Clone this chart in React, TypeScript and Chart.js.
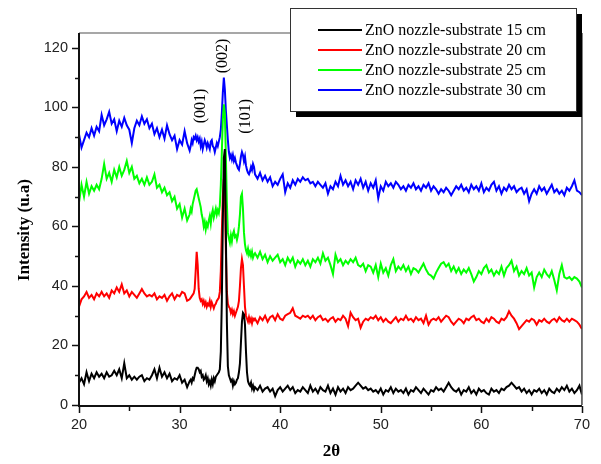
import React, { useEffect, useRef } from "react";
import { Chart, registerables } from "chart.js";

Chart.register(...registerables);

// 2θ sampling grid: [start, end, step] — finer around the ZnO peaks
const TWO_THETA_SEGMENTS: [number, number, number][] = [
  [20, 30.75, 0.25],
  [31, 37.4, 0.1],
  [37.5, 70, 0.25],
];

function buildTwoTheta(): number[] {
  const out: number[] = [];
  for (const [a, b, s] of TWO_THETA_SEGMENTS) {
    const n = Math.round((b - a) / s);
    for (let i = 0; i <= n; i++) out.push(Math.round((a + i * s) * 100) / 100);
  }
  return out;
}
const twoTheta = buildTwoTheta();

const seriesLabels = [
  "ZnO nozzle-substrate 15 cm",
  "ZnO nozzle-substrate 20 cm",
  "ZnO nozzle-substrate 25 cm",
  "ZnO nozzle-substrate 30 cm",
];
const seriesColors = ["#000000", "#ff0000", "#00ff00", "#0000ff"];

const intensity15 = [
  // 20 – 30.75
  7.5, 9, 7, 11, 8, 10.5, 9, 11, 9.5, 10.5, 9, 11, 9.5, 10, 11.5, 10, 12, 9, 14, 9,
  10, 8.5, 9.5, 8.5, 9.5, 10, 8, 9, 8.5, 10, 12, 9, 12.5, 9.5, 11, 9, 10.5, 8, 9, 8.5,
  10, 7.5, 8.5, 6,
  // 31 – 37.4
  8, 8.5, 7.5, 9, 8.5, 10, 11.5, 12.5, 12.5, 12,
  11, 11.5, 9.5, 10, 8.5, 9, 10, 8, 9, 7,
  8, 6.5, 8.5, 7, 9, 8, 9.5, 10, 10.5, 11,
  12, 18, 35, 62, 83, 86, 58, 28, 13, 10,
  9, 8, 8.5, 6.5, 8, 7, 7.5, 8.5, 9, 11,
  14, 21, 28, 31, 30.5, 27, 18, 11, 8, 7,
  6.5, 7.5, 5.5, 6.5, 5,
  // 37.5 – 70
  6, 5, 6.5, 4.5, 5.5, 6, 4.5, 5.5, 3, 5,
  6, 4.5, 5.5, 6.5, 5, 6, 4, 5, 4.5, 6, 5, 4, 6.5, 4.5, 5.5, 4, 6, 5, 4.5, 6.5,
  4, 5.5, 3.5, 6, 4.5, 5.5, 4, 6, 5, 5.5, 6.5, 7.5, 6.5, 5.5, 6, 5, 5.5, 4.5, 5, 4,
  5.5, 3.5, 5, 4.5, 6, 4, 5.5, 4.5, 5, 4, 5.5, 3.5, 5, 4.5, 6, 5, 4, 5.5, 4.5, 3.5,
  5, 4.5, 6, 5, 5.5, 4.5, 6, 7.5, 6, 5, 4.5, 5.5, 3.5, 5, 4.5, 6, 4, 5, 3.5, 5.5,
  4.5, 5, 4, 3.5, 5.5, 4.5, 5, 4, 5.5, 5, 6, 6.5, 7.5, 6.5, 5.5, 6, 4.5, 5.5, 4, 5,
  3.5, 5, 4.5, 5.5, 4, 5, 3.5, 5.5, 4.5, 4, 5.5, 4.5, 6, 5, 6.5, 4.5, 5.5, 4, 5, 6.5,
  3.5,
];

const intensity20 = [
  // 20 – 30.75
  33, 35.5, 36.5, 38, 36, 37, 35.5, 37.5, 36.5, 38, 36.5, 37.5, 36, 38.5, 37.5, 39.5, 38, 40.5, 37.5, 38.5,
  36.5, 38, 37, 36, 37.5, 39, 37.5, 36.5, 37, 36.5, 37.5, 35.5, 36.5, 36, 37, 35, 36.5, 37.5, 35.5, 37,
  36.5, 38, 37.5, 35,
  // 31 – 37.4
  35.5, 36, 36.5, 37, 37.5, 39, 45, 51.5, 47, 39,
  36, 35, 35.5, 34, 35, 33.5, 34.5, 33, 34, 33.5,
  35, 33, 34.5, 33.5, 32.5, 33.5, 34, 35, 35.5, 36,
  38, 45, 58, 70, 76, 72, 52, 38, 34, 33,
  32.5, 31, 32, 30.5, 31.5, 30, 31, 32, 33, 35,
  40, 46, 49, 47, 40, 33, 30, 29, 28, 29.5,
  28, 29, 27.5, 29, 28.5,
  // 37.5 – 70
  29, 27.5, 29.5, 28.5, 30, 28, 29.5, 30, 28.5, 30.5,
  29, 28.5, 30, 30.5, 31, 32.5, 30, 29.5, 29, 30, 29.5, 30, 29, 30, 28.5, 29.5, 30, 28.5, 29, 28,
  29, 29.5, 28, 29, 28.5, 30, 29, 26.5, 31, 29.5, 28.5, 29, 26, 28, 29, 28.5, 29.5, 29, 30, 28.5,
  29.5, 28, 29, 28, 27.5, 28.5, 29.5, 28, 29, 28.5, 30, 28.5, 29, 28, 29.5, 28.5, 29, 27.5, 30, 27,
  28.5, 29, 28.5, 29.5, 28, 29, 30, 29.5, 28, 27, 28, 29, 28.5, 27.5, 29, 28.5, 29.5, 30, 28.5, 29,
  28, 27.5, 29, 28, 29.5, 29, 28, 27.5, 29, 28.5, 29.5, 31.5, 30, 29, 27.5, 25.5, 26.5, 27.5, 28.5, 28,
  29, 28.5, 27, 28.5, 28, 29, 28, 27.5, 28.5, 29, 28, 29.5, 28.5, 28, 29, 28, 29, 28.5, 28, 27,
  25.5,
];

const intensity25 = [
  // 20 – 30.75
  68, 74, 70, 75, 71, 73.5, 72, 74, 72.5, 76, 81, 76, 78, 75, 79, 76.5, 80, 77, 79, 82,
  78, 80, 76, 77, 74.5, 76, 74, 76.5, 74, 75, 77.5, 73, 74, 71.5, 73, 70.5, 71.5, 68.5, 70, 66,
  67.5, 63, 66, 62,
  // 31 – 37.4
  64, 66, 65, 67.5, 69, 70.5, 72, 72.5, 71, 69.5,
  68, 66.5, 64, 62.5, 60, 61.5, 59, 61, 60, 62,
  63.5, 61, 64, 65.5, 63, 64.5, 66, 64, 65.5, 64.5,
  67, 74, 85, 96, 101, 98, 84, 68, 58, 56,
  54.5, 57, 55, 57.5, 58.5, 56.5, 57, 55.5, 57, 60,
  64, 70, 71, 66, 58, 54, 52, 51, 52.5, 50.5,
  51.5, 50, 51.5, 49.5, 50.5,
  // 37.5 – 70
  51, 49.5, 51.5, 49, 50.5, 48, 50, 48.5, 49.5, 50.5,
  48, 49, 47, 49.5, 48, 49.5, 46.5, 48.5, 47.5, 49, 47, 48.5, 46.5, 49, 48, 49.5, 47.5, 51, 48.5, 49.5,
  47, 44, 50.5, 48, 49, 47, 48.5, 47.5, 49, 48, 49.5, 47, 46.5, 47.5, 45, 47, 46.5, 44.5, 47, 43,
  47.5, 44.5, 46, 43.5, 47, 49, 45, 46.5, 45.5, 47, 45, 46.5, 44, 46, 45.5, 44.5, 46, 47.5, 45.5, 44,
  43.5, 42.5, 44.5, 46, 47.5, 48, 46.5, 47.5, 45, 46.5, 44.5, 46, 44, 45.5, 44.5, 46, 44, 41.5, 43, 45,
  44, 46, 47, 44.5, 45.5, 43.5, 45, 44, 46.5, 43.5, 46, 47, 48.5, 45, 46.5, 43.5, 45, 44, 46, 43.5,
  44.5, 39.5, 43, 44.5, 43, 45.5, 44, 43, 45, 42, 38.5, 44, 47, 43, 42.5, 43, 42, 43, 42.5, 41.5,
  39.5,
];

const intensity30 = [
  // 20 – 30.75
  91, 86.5, 89, 91.5, 90, 93, 90.5, 93.5, 92, 97.5, 94, 96, 98.5, 94.5, 96, 92, 95.5, 93.5, 96.5, 94,
  92.5, 88, 93, 95.5, 94, 97, 94.5, 96, 93, 94.5, 91, 93, 90, 92.5, 89.5, 94, 91, 89, 90.5, 86,
  89, 87.5, 92, 88,
  // 31 – 37.4
  85.5, 87, 89, 88, 90, 89.5, 90.5, 89, 90, 88.5,
  89.5, 87, 88.5, 86, 87.5, 89, 88, 86.5, 88, 87,
  86, 88.5, 89, 87, 86.5, 85, 86.5, 88, 87, 88.5,
  90, 92.5, 98, 105, 110, 106, 99, 94, 89, 85,
  83, 84, 82.5, 84, 82, 83, 81.5, 80.5, 79.5, 79,
  81, 83.5, 85, 84, 82, 83.5, 80.5, 79, 78, 77.5,
  78.5, 80, 79, 81, 80,
  // 37.5 – 70
  77.5, 76, 78, 75.5, 77, 75, 76.5, 73.5, 75, 74,
  76, 77.5, 71.5, 74.5, 73, 75.5, 74, 76, 75, 76.5, 75.5, 76, 74.5, 75, 73.5, 75, 74, 73, 74.5, 71,
  73.5, 72.5, 75, 73.5, 77, 74, 75.5, 73.5, 75, 72.5, 75.5, 74, 76, 73, 75, 72, 74.5, 73, 75.5, 69.5,
  73.5, 72, 75, 73.5, 74.5, 73, 75, 74, 72.5, 73.5, 72, 74, 73, 74.5, 72.5, 73.5, 72, 74, 73, 74.5,
  72, 73.5, 72.5, 71, 72.5, 71.5, 73, 72, 70.5, 72, 73.5, 72.5, 74, 72, 73, 71.5, 74, 72.5, 73.5, 72,
  74.5, 71.5, 73, 72, 74, 75, 72, 73.5, 71, 73, 72, 74, 72.5, 73.5, 71.5, 72.5, 73, 71, 72.5, 68.5,
  71, 72.5, 71, 73.5, 72, 73, 71, 72.5, 74, 71.5, 72.5, 71, 72, 70.5, 73, 72, 73.5, 75.5, 72, 71.5,
  70.5,
];

const seriesValues = [intensity15, intensity20, intensity25, intensity30];

// Miller-index peak labels: [text, 2θ, intensity]
const peakLabels: [string, number, number][] = [
  ["(001)", 32.15, 100.5],
  ["(002)", 34.3, 117.3],
  ["(101)", 36.6, 97],
];

const xTicks = [20, 30, 40, 50, 60, 70];
const yTicks = [0, 20, 40, 60, 80, 100, 120];
const xMinorTicks = [25, 35, 45, 55, 65];
const yMinorTicks = [10, 30, 50, 70, 90, 110];

const W = 601;
const H = 464;

const framePlugin = {
  id: "framePlugin",
  afterDraw(chart: any) {
    const ctx = chart.ctx as CanvasRenderingContext2D;
    const { left, right, top, bottom } = chart.chartArea;
    const xs = chart.scales.x;
    const ys = chart.scales.y;
    ctx.save();
    // top & right frame
    ctx.strokeStyle = "#8a8a8a";
    ctx.lineWidth = 1.5;
    ctx.beginPath();
    ctx.moveTo(left, top);
    ctx.lineTo(right, top);
    ctx.stroke();
    ctx.strokeStyle = "#444";
    ctx.beginPath();
    ctx.moveTo(right, top);
    ctx.lineTo(right, bottom);
    ctx.stroke();
    // left & bottom axes
    ctx.strokeStyle = "#111";
    ctx.lineWidth = 2;
    ctx.beginPath();
    ctx.moveTo(left, top);
    ctx.lineTo(left, bottom + 1);
    ctx.lineTo(right, bottom + 1);
    ctx.stroke();
    // ticks
    ctx.lineWidth = 1.5;
    for (const v of yTicks) {
      const y = Math.round(ys.getPixelForValue(v)) + 0.5;
      ctx.beginPath();
      ctx.moveTo(left - 7, y);
      ctx.lineTo(left, y);
      ctx.stroke();
    }
    for (const v of yMinorTicks) {
      const y = Math.round(ys.getPixelForValue(v)) + 0.5;
      ctx.beginPath();
      ctx.moveTo(left - 4, y);
      ctx.lineTo(left, y);
      ctx.stroke();
    }
    for (const v of xTicks) {
      const x = Math.round(xs.getPixelForValue(v)) + 0.5;
      ctx.beginPath();
      ctx.moveTo(x, bottom + 1);
      ctx.lineTo(x, bottom + 8);
      ctx.stroke();
    }
    for (const v of xMinorTicks) {
      const x = Math.round(xs.getPixelForValue(v)) + 0.5;
      ctx.beginPath();
      ctx.moveTo(x, bottom + 1);
      ctx.lineTo(x, bottom + 6);
      ctx.stroke();
    }
    // axis titles
    ctx.fillStyle = "#000";
    ctx.font = "bold 17px 'Liberation Serif', 'Times New Roman', serif";
    ctx.textAlign = "center";
    ctx.textBaseline = "middle";
    ctx.fillText("2θ", (left + right) / 2 + 1, 452);
    ctx.save();
    ctx.translate(25, 230);
    ctx.rotate(-Math.PI / 2);
    ctx.fillText("Intensity (u.a)", 0, 0);
    ctx.restore();
    // peak labels
    ctx.font = "16px 'Liberation Serif', 'Times New Roman', serif";
    for (const [t, px, py] of peakLabels) {
      ctx.save();
      ctx.translate(xs.getPixelForValue(px), ys.getPixelForValue(py));
      ctx.rotate(-Math.PI / 2);
      ctx.fillText(t, 0, 0);
      ctx.restore();
    }
    // legend box with shadow
    const bx = 290, by = 8, bw = 286, bh = 103;
    ctx.fillStyle = "#000";
    ctx.fillRect(bx + 6, by + 6, bw, bh);
    ctx.fillStyle = "#fff";
    ctx.fillRect(bx, by, bw, bh);
    ctx.strokeStyle = "#333";
    ctx.lineWidth = 1;
    ctx.strokeRect(bx + 0.5, by + 0.5, bw, bh);
    ctx.font = "16px 'Liberation Serif', 'Times New Roman', serif";
    ctx.textAlign = "left";
    ctx.textBaseline = "middle";
    seriesLabels.forEach((lab, i) => {
      const y = 30 + i * 20;
      ctx.strokeStyle = seriesColors[i];
      ctx.lineWidth = 2;
      ctx.beginPath();
      ctx.moveTo(318, y);
      ctx.lineTo(362, y);
      ctx.stroke();
      ctx.fillStyle = "#000";
      ctx.fillText(lab, 365, y + 1);
    });
    ctx.restore();
  },
};

export default function App() {
  const ref = useRef<HTMLCanvasElement | null>(null);
  useEffect(() => {
    if (!ref.current) return;
    const chart = new Chart(ref.current, {
      type: "line",
      data: {
        datasets: seriesValues.map((vals, i) => ({
          label: seriesLabels[i],
          data: twoTheta.map((x, j) => ({ x, y: vals[j] })),
          borderColor: seriesColors[i],
          backgroundColor: seriesColors[i],
          borderWidth: 2,
          pointRadius: 0,
          tension: 0,
          fill: false,
        })),
      },
      options: {
        responsive: false,
        animation: false,
        devicePixelRatio: 1,
        layout: { padding: { top: 33, right: 15, left: 0, bottom: 0 } },
        plugins: { legend: { display: false }, tooltip: { enabled: false } },
        scales: {
          x: {
            type: "linear",
            min: 20,
            max: 70,
            afterBuildTicks: (s: any) => {
              s.ticks = xTicks.map((v) => ({ value: v }));
            },
            afterFit: (s: any) => {
              s.height = 59;
            },
            ticks: {
              padding: 11,
              color: "#222",
              font: { family: "'Liberation Sans', Arial, sans-serif", size: 14.5 },
              maxRotation: 0,
            },
            grid: { display: false, drawTicks: false },
            border: { display: false },
          },
          y: {
            type: "linear",
            min: 0,
            max: 125,
            afterBuildTicks: (s: any) => {
              s.ticks = yTicks.map((v) => ({ value: v }));
            },
            afterFit: (s: any) => {
              s.width = 79;
            },
            ticks: {
              padding: 11,
              color: "#222",
              font: { family: "'Liberation Sans', Arial, sans-serif", size: 14.5 },
            },
            grid: { display: false, drawTicks: false },
            border: { display: false },
          },
        },
      },
      plugins: [framePlugin],
    } as any);
    return () => chart.destroy();
  }, []);
  return (
    <div style={{ position: "fixed", left: 0, top: 0, width: W, height: H, background: "#fff" }}>
      <canvas ref={ref} width={W} height={H} style={{ width: W, height: H, display: "block" }} />
    </div>
  );
}
